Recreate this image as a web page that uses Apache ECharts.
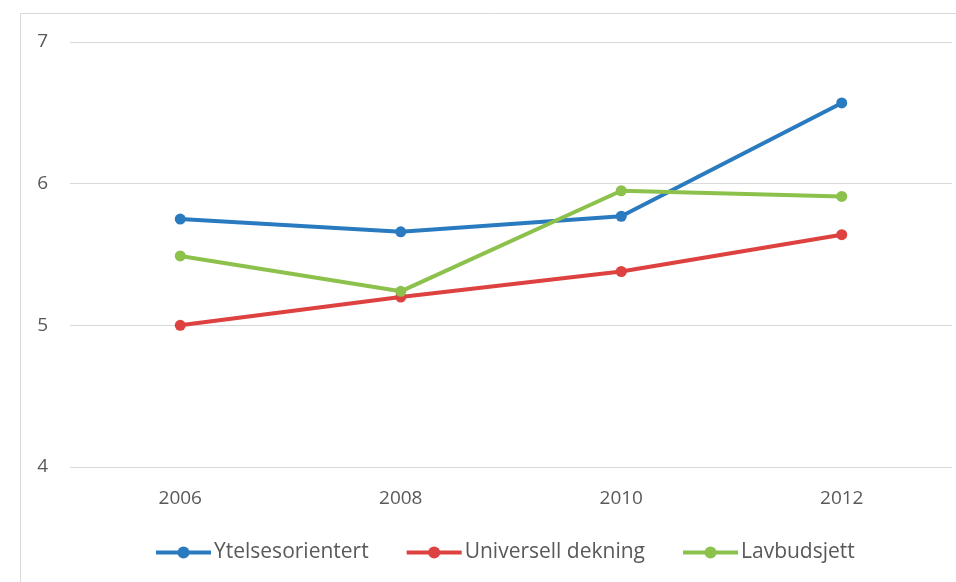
<!DOCTYPE html>
<html>
<head>
<meta charset="utf-8">
<script src="https://cdn.jsdelivr.net/npm/echarts@6/dist/echarts.min.js"></script>
<style>
  html, body { margin: 0; padding: 0; background: #fff; }
  #chart { width: 956px; height: 582px; }
</style>
</head>
<body>
<div id="chart"></div>
<script>
// Years on the category axis
const years = ['2006', '2008', '2010', '2012'];
// Series values
const ytelsesorientert = [5.75, 5.66, 5.77, 6.57];
const universellDekning = [5.00, 5.20, 5.38, 5.64];
const lavbudsjett = [5.49, 5.24, 5.95, 5.91];
// Series names
const seriesNames = ['Ytelsesorientert', 'Universell dekning', 'Lavbudsjett'];
const seriesColors = ['#2a7ac0', '#dd4140', '#8cc14c'];

const font = '"Open Sans", "DejaVu Sans", sans-serif';

const chart = echarts.init(document.getElementById('chart'));

function lineSeries(name, data, color) {
  return {
    name: name,
    type: 'line',
    data: data,
    symbol: 'circle',
    symbolSize: 11,
    lineStyle: { width: 4, color: color },
    itemStyle: { color: color },
    emphasis: { disabled: true },
    animation: false
  };
}

chart.setOption({
  animation: false,
  graphic: [{
    type: 'rect',
    shape: { x: 20.5, y: 13.5, width: 960, height: 600 },
    style: { fill: 'none', stroke: '#d9d9d9', lineWidth: 1 },
    silent: true
  }],
  grid: { left: 70, right: 4, top: 42, bottom: 115 },
  legend: {
    top: 537,
    left: 149,
    itemWidth: 55,
    itemHeight: 15,
    itemGap: 36,
    lineStyle: { width: 4 },
    textStyle: { fontFamily: font, fontSize: 21, color: '#595959', padding: [0, 0, 0, -2] },
    data: seriesNames
  },
  xAxis: {
    type: 'category',
    data: years,
    boundaryGap: true,
    axisLine: { show: false },
    axisTick: { show: false },
    axisLabel: { fontFamily: font, fontSize: 19, color: '#595959', margin: 22 }
  },
  yAxis: {
    type: 'value',
    min: 4,
    max: 7,
    interval: 1,
    axisLine: { show: false },
    axisTick: { show: false },
    axisLabel: { fontFamily: font, fontSize: 19, color: '#595959', margin: 22 },
    splitLine: { lineStyle: { color: '#d9d9d9', width: 1 } }
  },
  series: [
    lineSeries(seriesNames[0], ytelsesorientert, seriesColors[0]),
    lineSeries(seriesNames[1], universellDekning, seriesColors[1]),
    lineSeries(seriesNames[2], lavbudsjett, seriesColors[2])
  ]
});
</script>
</body>
</html>
